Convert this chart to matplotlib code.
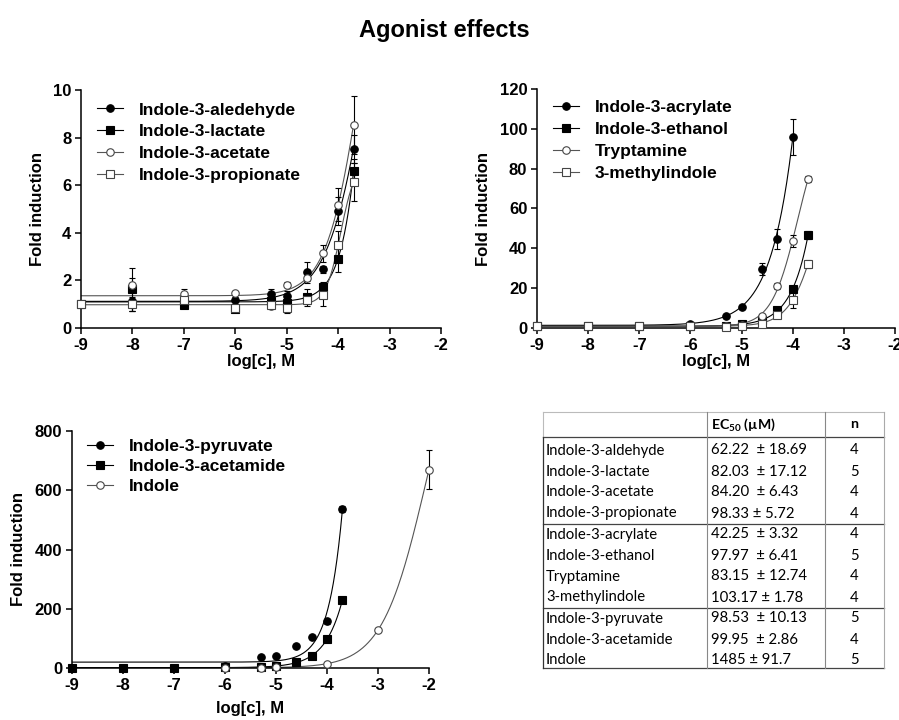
import matplotlib
matplotlib.use("Agg")
import matplotlib.pyplot as plt
from matplotlib.lines import Line2D
import numpy as np

plt.rcParams['font.family'] = ['Liberation Sans', 'DejaVu Sans']
plt.rcParams['axes.unicode_minus'] = False

W, H = 899, 720

# ---- data (log molar concentration, fold induction, error) ----
x_std = [-9, -8, -7, -6, -5.3, -5, -4.6, -4.3, -4, -3.7]

ald_y = [1.0, 1.13, 1.05, 1.19, 1.44, 1.36, 2.36, 2.47, 4.92, 7.52]
ald_e = [0, 0.4, 0.1, 0.1, 0.2, 0.2, 0.4, 0.15, 0.6, 0.6]
lac_y = [1.0, 1.63, 0.98, 0.79, 1.15, 1.05, 1.32, 1.74, 2.92, 6.58]
lac_e = [0, 0.9, 0.05, 0.1, 0.1, 0.15, 0.3, 0.2, 0.55, 0.5]
ace_y = [1.0, 1.8, 1.44, 1.47, 0.94, 1.82, 2.1, 3.14, 5.18, 8.53]
ace_e = [0, 0.3, 0.2, 0.05, 0.1, 0.1, 0.2, 0.35, 0.7, 1.2]
pro_y = [1.0, 1.02, 1.16, 0.86, 0.95, 0.86, 1.16, 1.37, 3.48, 6.14]
pro_e = [0, 0.3, 0.2, 0.1, 0.1, 0.25, 0.25, 0.45, 0.6, 0.8]

x_acr = [-9, -8, -7, -6, -5.3, -5, -4.6, -4.3, -4]
acr_y = [1.0, 1.0, 1.0, 1.8, 5.9, 10.7, 29.7, 44.9, 95.9]
acr_e = [0, 0, 0, 0.3, 0.8, 1.0, 3.0, 5.0, 9.0]
eth_y = [1.0, 1.0, 1.0, 1.0, 0.8, 1.8, 4.2, 9.0, 19.6, 46.6]
eth_e = [0, 0, 0, 0, 0.2, 0.3, 0.6, 1.0, 1.5, 2.0]
try_y = [1.0, 1.0, 1.0, 1.0, 1.0, 1.5, 6.2, 21.0, 43.9, 74.7]
try_e = [0, 0, 0, 0, 0.2, 0.3, 0.8, 1.5, 3.0, 1.5]
met_y = [1.0, 1.0, 1.0, 1.0, 0.5, 1.0, 2.2, 6.4, 13.9, 32.3]
met_e = [0, 0, 0, 0, 0.2, 0.3, 0.5, 1.0, 4.0, 2.0]

pyr_y = [0, 0, 0, 8, 37, 41, 75, 103, 158, 536]
pyr_e = [0, 0, 0, 1, 3, 3, 5, 6, 8, 10]
acm_y = [0, 0, 0, 3, 4.5, 8, 20, 39, 98, 228]
acm_e = [0, 0, 0, 1, 1, 1, 2, 3, 5, 8]
x_ind = [-6, -5.3, -5, -4, -3, -2]
ind_y = [1, 1, 2, 15, 128, 670]
ind_e = [0, 0, 0.5, 2, 8, 65]

# ---- table ----
tbl_names = ['Indole-3-aldehyde', 'Indole-3-lactate', 'Indole-3-acetate',
             'Indole-3-propionate', 'Indole-3-acrylate', 'Indole-3-ethanol',
             'Tryptamine', '3-methylindole', 'Indole-3-pyruvate',
             'Indole-3-acetamide', 'Indole']
tbl_ec50 = ['62.22  \u00b1 18.69', '82.03  \u00b1 17.12', '84.20  \u00b1 6.43',
            '98.33 \u00b1 5.72', '42.25  \u00b1 3.32', '97.97  \u00b1 6.41',
            '83.15  \u00b1 12.74', '103.17 \u00b1 1.78', '98.53  \u00b1 10.13',
            '99.95  \u00b1 2.86', '1485 \u00b1 91.7']
tbl_n = [4, 5, 4, 4, 4, 5, 4, 4, 5, 4, 5]


def hill_fit(x, y):
    x = np.asarray(x, float)
    y = np.asarray(y, float)
    best_r, best_p = np.inf, None
    for e in np.linspace(-6.5, -1.0, 111):
        for h in np.linspace(0.5, 3.0, 51):
            f = 1.0 / (1.0 + 10 ** ((e - x) * h))
            A = np.column_stack([np.ones_like(f), f])
            c = np.linalg.lstsq(A, y, rcond=None)[0]
            r = np.sum((A @ c - y) ** 2)
            if r < best_r:
                best_r, best_p = r, (c[0], c[1], e, h)
    return best_p


def draw_series(ax, x, y, err, marker, filled, label, lcol):
    b, a, e, h = hill_fit(x, y)
    xx = np.linspace(min(x), max(x), 300)
    ax.plot(xx, b + a / (1 + 10 ** ((e - xx) * h)), color=lcol, lw=0.8, zorder=2)
    fc = 'black' if filled else 'white'
    ec = 'black' if filled else '#444444'
    ebar = ax.errorbar(x, y, yerr=err, fmt='none', ecolor='black', elinewidth=0.8,
                       capsize=2.5, capthick=0.8, zorder=3)
    for art in ebar.lines[1] + ebar.lines[2]:
        art.set_clip_on(False)
    ax.plot(x, y, ls='none', marker=marker, ms=5.4, mfc=fc, mec=ec, mew=0.8,
            zorder=4, clip_on=False)
    return Line2D([], [], color=lcol, lw=0.8, marker=marker, ms=5.4, mfc=fc,
                  mec=ec, mew=0.8, label=label)


def style_axes(ax, ylim, yticks, xpad=4):
    ax.set_xlim(-9, -2)
    ax.set_ylim(*ylim)
    ax.set_xticks(range(-9, -1))
    ax.set_xticklabels([str(t) for t in range(-9, -1)])
    ax.set_yticks(yticks)
    for s in ['top', 'right']:
        ax.spines[s].set_visible(False)
    for s in ['left', 'bottom']:
        ax.spines[s].set_linewidth(1.1)
    ax.tick_params(direction='out', length=4, width=1.1, labelsize=12, pad=3)
    for lab in ax.get_xticklabels() + ax.get_yticklabels():
        lab.set_fontweight('bold')
    ax.set_xlabel('log[c], M', fontsize=12, fontweight='bold', labelpad=xpad)
    ax.set_ylabel('Fold induction', fontsize=12, fontweight='bold', labelpad=6)


def axes_px(fig, l, r, t, b):
    return fig.add_axes([l / W, 1 - b / H, (r - l) / W, (b - t) / H])


leg_kw = dict(loc='upper left', frameon=False,
              prop={'weight': 'bold', 'size': 12.5},
              handlelength=1.5, handletextpad=0.9,
              borderpad=0, borderaxespad=0)

fig = plt.figure(figsize=(W / 100, H / 100), dpi=100)
fig.text(444 / W, 1 - 30 / H, 'Agonist effects', ha='center', va='center',
         fontsize=17, fontweight='bold')

# top left
ax1 = axes_px(fig, 81, 441, 90, 328)
style_axes(ax1, (0, 10), [0, 2, 4, 6, 8, 10], xpad=1)
hs = [draw_series(ax1, x_std, ald_y, ald_e, 'o', True, 'Indole-3-aledehyde', 'black'),
      draw_series(ax1, x_std, lac_y, lac_e, 's', True, 'Indole-3-lactate', 'black'),
      draw_series(ax1, x_std, ace_y, ace_e, 'o', False, 'Indole-3-acetate', '#555555'),
      draw_series(ax1, x_std, pro_y, pro_e, 's', False, 'Indole-3-propionate', '#555555')]
ax1.legend(handles=hs, bbox_to_anchor=(0.044, 0.948), labelspacing=0.39, **leg_kw)

# top right
ax2 = axes_px(fig, 537, 895, 89, 328)
style_axes(ax2, (0, 120), [0, 20, 40, 60, 80, 100, 120], xpad=1)
hs = [draw_series(ax2, x_acr, acr_y, acr_e, 'o', True, 'Indole-3-acrylate', 'black'),
      draw_series(ax2, x_std, eth_y, eth_e, 's', True, 'Indole-3-ethanol', 'black'),
      draw_series(ax2, x_std, try_y, try_e, 'o', False, 'Tryptamine', '#555555'),
      draw_series(ax2, x_std, met_y, met_e, 's', False, '3-methylindole', '#555555')]
ax2.legend(handles=hs, bbox_to_anchor=(0.045, 0.955), labelspacing=0.39, **leg_kw)

# bottom left
ax3 = axes_px(fig, 72, 429, 431, 668)
style_axes(ax3, (0, 800), [0, 200, 400, 600, 800], xpad=6)
hs = [draw_series(ax3, x_std, pyr_y, pyr_e, 'o', True, 'Indole-3-pyruvate', 'black'),
      draw_series(ax3, x_std, acm_y, acm_e, 's', True, 'Indole-3-acetamide', 'black'),
      draw_series(ax3, x_ind, ind_y, ind_e, 'o', False, 'Indole', '#555555')]
ax3.legend(handles=hs, bbox_to_anchor=(0.042, 0.967), labelspacing=0.27, **leg_kw)

# table drawn in figure pixel positions
tx = [543, 707, 825, 884]
ty0, ty1, hdr = 412, 668, 437
row_c0, row_step = 450.5, 21.0
row_cy = [row_c0 + i * row_step for i in range(len(tbl_names))]


def hline(y, x0, x1, c, lw):
    fig.add_artist(Line2D([x0 / W, x1 / W], [1 - y / H, 1 - y / H], color=c, lw=lw))


def vline(x, y0, y1, c, lw):
    fig.add_artist(Line2D([x / W, x / W], [1 - y0 / H, 1 - y1 / H], color=c, lw=lw))


hline(ty0, tx[0], tx[3], '#bbbbbb', 0.8)
hline(hdr, tx[0], tx[3], '#444444', 0.9)
hline((row_cy[3] + row_cy[4]) / 2, tx[0], tx[3], '#444444', 0.9)
hline((row_cy[7] + row_cy[8]) / 2, tx[0], tx[3], '#444444', 0.9)
hline(ty1, tx[0], tx[3], '#444444', 0.9)
vline(tx[0], ty0, hdr, '#bbbbbb', 0.8)
vline(tx[0], hdr, ty1, '#333333', 0.9)
vline(tx[1], ty0, ty1, '#888888', 0.8)
vline(tx[2], ty0, ty1, '#888888', 0.8)
vline(tx[3], ty0, ty1, '#aaaaaa', 0.8)

tfont = ['Lato', 'DejaVu Sans']
tsize = 10.7
fig.text((tx[1] + 4) / W, 1 - (ty0 + hdr) / 2 / H, 'EC$_\\mathregular{50}$ (\u00b5M)',
         ha='left', va='center', fontsize=tsize - 0.5, fontweight='bold', family=tfont)
fig.text((tx[2] + tx[3]) / 2 / W, 1 - (ty0 + hdr) / 2 / H, 'n',
         ha='center', va='center', fontsize=tsize - 0.5, fontweight='bold', family=tfont)
for i in range(len(tbl_names)):
    yc = 1 - row_cy[i] / H
    fig.text((tx[0] + 3) / W, yc, tbl_names[i], ha='left', va='center',
             fontsize=tsize, family=tfont)
    fig.text((tx[1] + 4) / W, yc, tbl_ec50[i], ha='left', va='center',
             fontsize=tsize, family=tfont)
    fig.text((tx[2] + tx[3]) / 2 / W, yc, str(tbl_n[i]), ha='center',
             va='center', fontsize=tsize, family=tfont)

fig.savefig('out.png', dpi=100)
